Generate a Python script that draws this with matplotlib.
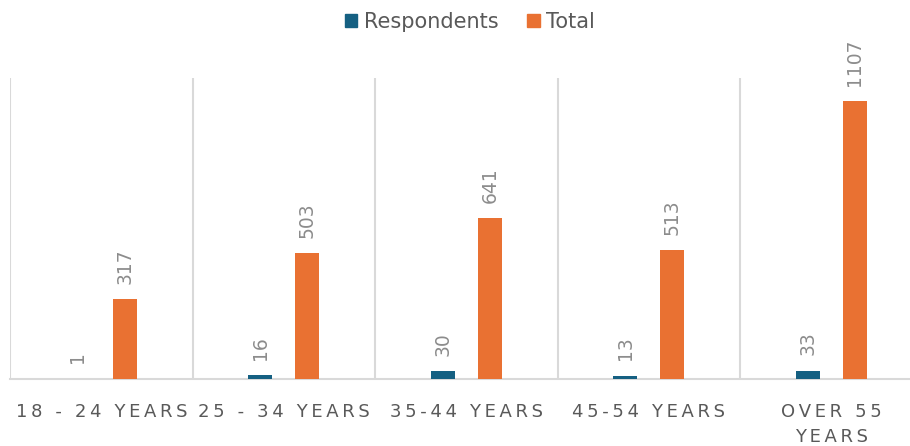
import numpy as np
import matplotlib
matplotlib.use('Agg')
import matplotlib.pyplot as plt
from matplotlib.patches import Patch

categories = ['18 - 24 YEARS', '25 - 34 YEARS', '35-44 YEARS', '45-54 YEARS', 'OVER 55\nYEARS']
respondents = [1, 16, 30, 13, 33]
total = [317, 503, 641, 513, 1107]

blue = '#156082'
orange = '#E97132'
grid = '#D9D9D9'
txt = '#595959'


def spaced(s):
    # mimic Excel's character spacing
    return '\n'.join('\u2009'.join(line) for line in s.split('\n'))


fig = plt.figure(figsize=(9.1, 4.46), dpi=100)
# axes runs a bit past the right edge, like the original crop
ax = fig.add_axes([10 / 910, 1 - 379 / 446, 912.5 / 910, 301 / 446])

x = np.arange(len(categories))
w = 0.13
off = 0.129
ax.bar(x - off, respondents, w, color=blue, zorder=3)
ax.bar(x + off, total, w, color=orange, zorder=3)

for i in range(len(categories)):
    ax.annotate(str(respondents[i]), (x[i] - off, respondents[i]), xytext=(0, 11),
                textcoords='offset points', rotation=90, ha='center', va='bottom',
                fontsize=13.5, color='#8C8C8C')
    ax.annotate(str(total[i]), (x[i] + off, total[i]), xytext=(0, 11),
                textcoords='offset points', rotation=90, ha='center', va='bottom',
                fontsize=13.5, color='#8C8C8C')

ax.set_xlim(-0.5, 4.5)
ax.set_ylim(0, 1200)
for b in np.arange(-0.5, 5, 1):
    ax.axvline(b, color=grid, lw=1.5, zorder=1)

for s in ['top', 'right', 'left']:
    ax.spines[s].set_visible(False)
ax.spines['bottom'].set_color(grid)
ax.spines['bottom'].set_linewidth(1.5)
ax.set_yticks([])
ax.set_xticks(x)
ax.set_xticklabels([spaced(c) for c in categories], fontsize=13, color=txt,
                   family=['Liberation Sans Narrow', 'DejaVu Sans'], linespacing=1.5)
ax.tick_params(axis='x', length=0, pad=17)

handles = [Patch(color=blue), Patch(color=orange)]
fig.legend(handles, ['Respondents', 'Total'], loc='center', bbox_to_anchor=(470 / 910, 1 - 22 / 446),
           ncol=2, frameon=False, fontsize=15, handlelength=0.6, handleheight=0.6,
           handletextpad=0.3, columnspacing=1.4, labelcolor=txt)

fig.savefig('out.png', dpi=100)
